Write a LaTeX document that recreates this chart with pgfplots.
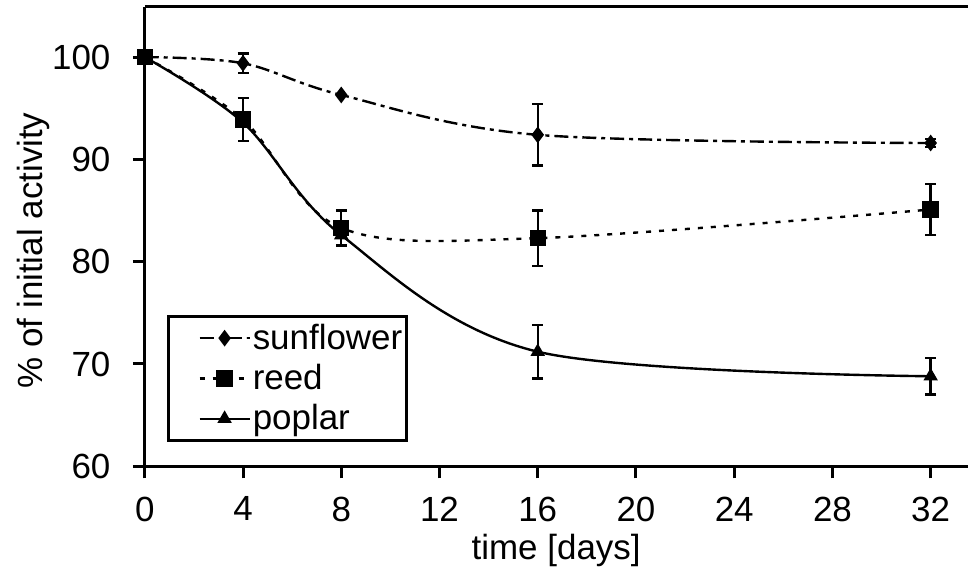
\documentclass[border=0pt]{standalone}
\usepackage{fontspec}
\setmainfont{Liberation Sans}
\usepackage{pgfplots}
\pgfplotsset{compat=1.18}
\newcommand{\chartfont}{\fontsize{17.5}{21}\selectfont}
\begin{document}
\begin{tikzpicture}
  \begin{axis}[
      scale only axis,
      width=412pt,
      height=230pt,
      xmin=0, xmax=33.5,
      ymin=60, ymax=104.9,
      axis x line*=box,
      axis y line*=left,
      y axis line style={-},
      axis line style={line width=1.5pt},
      xtick={0,4,...,32},
      ytick={60,70,...,100},
      xtick pos=bottom,
      ytick pos=left,
      tick align=outside,
      major tick length=6pt,
      tick style={line width=1.5pt, black},
      /pgf/number format/assume math mode=true,
      tick label style={font=\chartfont},
      xticklabel style={inner sep=0pt, anchor=north, yshift=-9pt},
      yticklabel style={inner sep=0pt, anchor=east, xshift=-11pt},
      xlabel={time [days]},
      ylabel={\% of initial activity},
      label style={font=\chartfont},
      xlabel style={at={(axis description cs:0.5,0)}, anchor=north, yshift=-34pt, inner sep=0pt},
      ylabel style={at={(axis description cs:0,0.47)}, anchor=south, yshift=47.5pt, inner sep=0pt},
      clip=false,
      legend style={
          at={(axis description cs:0.027,0.052)}, anchor=south west,
          font=\chartfont,
          draw=black, line width=1.5pt,
          inner xsep=1pt, inner ysep=2pt,
          nodes={inner sep=2pt, inner xsep=1pt},
          row sep=2pt,
          legend cell align=left,
      },
      legend image code/.code={%
          \path (0pt,0pt);
          \draw[mark repeat=2, mark phase=2, line width=1.2pt]
            plot coordinates {(14pt,0pt) (26.5pt,0pt) (39pt,0pt)};},
      error bars/y dir=both,
      error bars/y explicit,
      error bars/error bar style={line width=1.2pt, solid, black},
      error bars/error mark options={rotate=90, mark size=2.75pt, line width=1.2pt, solid, black},
    ]
    % sunflower
    \addplot[black, line width=1.2pt, smooth, tension=0.55,
        dash pattern=on 7pt off 2.5pt on 2pt off 2.5pt,
        mark=diamond*, mark size=3.2pt, mark options={solid, fill=black}]
      coordinates {
        (0,100) +- (0,0)
        (4,99.4) +- (0,0.95)
        (8,96.3) +- (0,0)
        (16,92.4) +- (0,3.0)
        (32,91.6) +- (0,0.4)
      };
    \addlegendentry{sunflower}
    % reed
    \addplot[black, line width=1.2pt, smooth, tension=0.55,
        dash pattern=on 2.5pt off 4pt,
        mark=square*, mark size=3.5pt, mark options={solid, fill=black}]
      coordinates {
        (0,100) +- (0,0)
        (4,93.9) +- (0,2.1)
        (8,83.3) +- (0,1.7)
        (16,82.3) +- (0,2.7)
        (32,85.1) +- (0,2.5)
      };
    \addlegendentry{reed}
    % poplar
    \addplot[black, line width=1.2pt, smooth, tension=0.55, solid,
        mark=triangle*, mark size=3pt, mark options={solid, fill=black}]
      coordinates {
        (0,100) +- (0,0)
        (4,93.6) +- (0,0)
        (8,82.6) +- (0,0)
        (16,71.2) +- (0,2.6)
        (32,68.8) +- (0,1.8)
      };
    \addlegendentry{poplar}
  \end{axis}
  \path ([xshift=-72.5pt,yshift=-52pt]current axis.south west)
    rectangle ([yshift=3.5pt]current axis.north east);
\end{tikzpicture}
\end{document}
